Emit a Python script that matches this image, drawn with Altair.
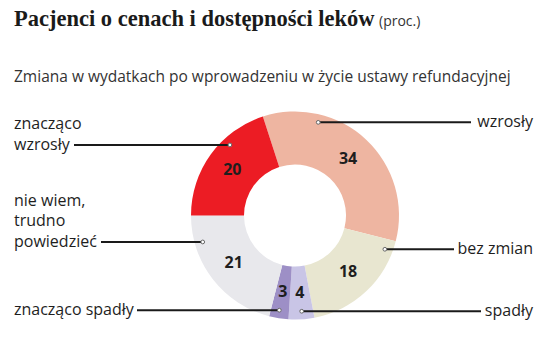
import math
import altair as alt
import pandas as pd

# ---- data ----
categories = ["wzrosły", "bez zmian", "spadły", "znacząco spadły",
              "nie wiem, trudno powiedzieć", "znacząco wzrosły"]
values = [34, 18, 4, 3, 21, 20]
colors = ["#EEB5A1", "#E8E6D0", "#C9C5E6", "#9D8FC6", "#E8E8EC", "#EC1C24"]
label_lines = [["wzrosły"], ["bez zmian"], ["spadły"], ["znacząco spadły"],
               ["nie wiem,", "trudno", "powiedzieć"], ["znacząco", "wzrosły"]]

TITLE = "Pacjenci o cenach i dostępności leków"
TITLE_UNIT = "(proc.)"
SUBTITLE = "Zmiana w wydatkach po wprowadzeniu w życie ustawy refundacyjnej"

# ---- layout ----
W, H = 553, 343
CX, CY = 295, 215.5
R_OUT, R_IN = 104, 51
START_DEG = -18
leader_angle = [14, 110.6, 176, 189.4, 254, 317.3]
leader_r = 96
leader_side = ["right", "right", "right", "left", "left", "left"]
leader_end = [471, 454, 481, 137, 101, 74]
RIGHT_X, LEFT_X, LINE_H = 533, 14, 20.5
TXT = "#1e1e1e"

donut = pd.DataFrame({"cat": categories, "val": values, "idx": list(range(len(categories)))})

start = math.radians(START_DEG) + 2 * math.pi
theta_scale = alt.Scale(range=[start, start + 2 * math.pi])
color_scale = alt.Scale(domain=categories, range=colors)

base = alt.Chart(donut).encode(
    theta=alt.Theta("val:Q", stack=True, scale=theta_scale),
    order=alt.Order("idx:Q", sort="ascending"),
    x=alt.value(CX),
    y=alt.value(CY),
)
arcs = base.mark_arc(innerRadius=R_IN, outerRadius=R_OUT).encode(
    color=alt.Color("cat:N", scale=color_scale, legend=None)
)
nums = base.mark_text(
    radius=(R_IN + R_OUT) / 2, font="Open Sans", fontSize=16, fontWeight="bold", color="#1e1e1e"
).encode(text="val:Q", detail="cat:N")

# leader lines
lrows, trows_r, trows_l = [], [], []
for i, c in enumerate(categories):
    a = math.radians(leader_angle[i])
    dx = CX + leader_r * math.sin(a)
    dy = CY - leader_r * math.cos(a)
    lrows.append({"cat": c, "x": dx, "y": dy, "x2": leader_end[i]})
    n = len(label_lines[i])
    for k, t in enumerate(label_lines[i]):
        row = {"t": t, "y": dy - (n - 1 - k) * LINE_H}
        if leader_side[i] == "right":
            row["x"] = RIGHT_X
            trows_r.append(row)
        else:
            row["x"] = LEFT_X
            trows_l.append(row)

leaders = pd.DataFrame(lrows)
rules = alt.Chart(leaders).mark_rule(strokeWidth=2, color="#1a1a1a").encode(
    x=alt.X("x:Q", scale=None), x2="x2:Q", y=alt.Y("y:Q", scale=None)
)
dots = alt.Chart(leaders).mark_circle(size=14, color="white", stroke="#666666", strokeWidth=1, opacity=1).encode(
    x=alt.X("x:Q", scale=None), y=alt.Y("y:Q", scale=None)
)

def labels(rows, align):
    return alt.Chart(pd.DataFrame(rows)).mark_text(
        align=align, baseline="middle", font="Open Sans", fontSize=16, color=TXT
    ).encode(x=alt.X("x:Q", scale=None), y=alt.Y("y:Q", scale=None), text="t:N")

lab_r = labels(trows_r, "right")
lab_l = labels(trows_l, "left")

title = alt.Chart(pd.DataFrame({"t": [TITLE]})).mark_text(
    align="left", baseline="alphabetic", font="Liberation Serif", fontSize=22.5, fontWeight="bold", color="#1a1a1a"
).encode(x=alt.value(14), y=alt.value(26), text="t:N")
unit = alt.Chart(pd.DataFrame({"t": [TITLE_UNIT]})).mark_text(
    align="left", baseline="alphabetic", font="Open Sans", fontSize=14, color="#333333"
).encode(x=alt.value(379), y=alt.value(26), text="t:N")
sub = alt.Chart(pd.DataFrame({"t": [SUBTITLE]})).mark_text(
    align="left", baseline="middle", font="Open Sans", fontSize=15.5, color="#333333"
).encode(x=alt.value(14), y=alt.value(77), text="t:N")

chart = alt.layer(arcs, nums, rules, dots, lab_r, lab_l, title, unit, sub).properties(
    width=W, height=H, autosize="none", padding=0, background="white"
).configure_view(strokeWidth=0)

chart.save("out.html", embed_options={"renderer": "svg", "actions": False})
